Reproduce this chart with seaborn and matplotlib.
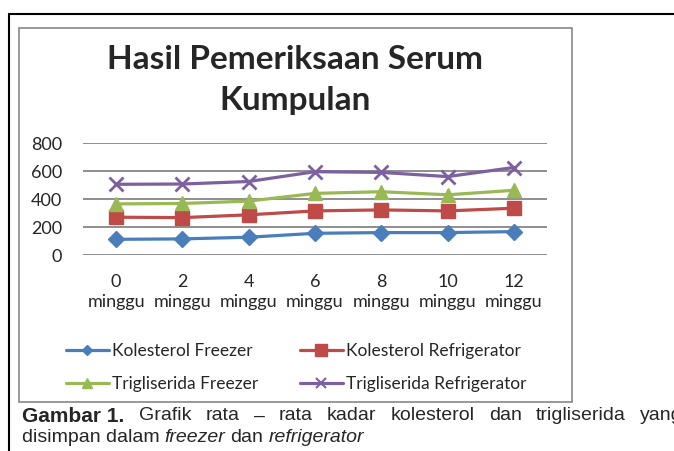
import matplotlib
matplotlib.use('Agg')
import matplotlib.pyplot as plt
from matplotlib.patches import Rectangle
from matplotlib.lines import Line2D
import seaborn as sns
import pandas as pd

# data
weeks = ['0\nminggu', '2\nminggu', '4\nminggu', '6\nminggu', '8\nminggu', '10\nminggu', '12\nminggu']
kolesterol_freezer = [112, 115, 127, 155, 160, 160, 167]
kolesterol_refrigerator = [270, 267, 287, 315, 322, 315, 334]
trigliserida_freezer = [365, 368, 385, 440, 452, 430, 462]
trigliserida_refrigerator = [505, 507, 525, 595, 590, 560, 625]
series_names = ['Kolesterol Freezer', 'Kolesterol Refrigerator',
                'Trigliserida Freezer', 'Trigliserida Refrigerator']

rows = []
for name, vals in zip(series_names, [kolesterol_freezer, kolesterol_refrigerator,
                                     trigliserida_freezer, trigliserida_refrigerator]):
    for i, v in enumerate(vals):
        rows.append({'pos': i, 'value': v, 'series': name})
df = pd.DataFrame(rows)

sns.set_style('white')
plt.rcParams['font.family'] = ['Lato', 'DejaVu Sans']

W, H = 674, 451
fig = plt.figure(figsize=(W / 100, H / 100), dpi=100)

# frames: outer black border and inner gray chart box
fig.add_artist(Line2D([9 / W, 9 / W], [0, 1 - 14 / H], color='black', lw=1.5))
fig.add_artist(Line2D([9 / W, 1], [1 - 14 / H, 1 - 14 / H], color='black', lw=1.5))
fig.add_artist(Rectangle((19 / W, 1 - 402 / H), (572 - 19) / W, (402 - 28) / H,
                         transform=fig.transFigure, fill=False, edgecolor='#888888', lw=1.2))

ax = fig.add_axes([83 / W, 1 - 255 / H, (547 - 83) / W, 112 / H])

palette = {'Kolesterol Freezer': '#4A7EBB', 'Kolesterol Refrigerator': '#BE4B48',
           'Trigliserida Freezer': '#98B954', 'Trigliserida Refrigerator': '#7D60A0'}
markers = {'Kolesterol Freezer': 'D', 'Kolesterol Refrigerator': 's',
           'Trigliserida Freezer': '^', 'Trigliserida Refrigerator': 'x'}
sizes = {'D': 8, 's': 10.5, '^': 10, 'x': 10}
leg_sizes = {'D': 5.5, 's': 8, '^': 7, 'x': 7}

for name in series_names:
    sub = df[df['series'] == name]
    m = markers[name]
    sns.lineplot(data=sub, x='pos', y='value', ax=ax, color=palette[name], lw=2.3,
                 marker=m, markersize=sizes[m], markeredgecolor=palette[name],
                 markeredgewidth=2 if m == 'x' else 1, label=name, legend=False)

ax.set_xlim(-0.5, len(weeks) - 0.5)
ax.set_ylim(0, 800)
ax.set_yticks([0, 200, 400, 600, 800])
ax.set_xticks(range(len(weeks)))
ax.set_xticklabels(weeks, fontsize=13, linespacing=1.25)
ax.tick_params(axis='y', labelsize=13, length=0, pad=15)
ax.tick_params(axis='x', length=0, pad=14)
ax.yaxis.grid(True, color='#868686', lw=1.3)
ax.xaxis.grid(False)
ax.set_xlabel('')
ax.set_ylabel('')
for s in ax.spines.values():
    s.set_visible(False)

fig.text(295 / W, 1 - 80 / H, 'Hasil Pemeriksaan Serum\nKumpulan', ha='center', va='center',
         fontsize=24, fontweight='bold', linespacing=1.5)

# legend filled column-wise, so order handles to get the two rows of the source
order = [0, 2, 1, 3]
handles = []
for k in order:
    n = series_names[k]
    m = markers[n]
    handles.append(Line2D([], [], color=palette[n], lw=2.3, marker=m, markersize=leg_sizes[m],
                          markeredgecolor=palette[n], markeredgewidth=1.5 if m == 'x' else 1))
fig.legend(handles, [series_names[k] for k in order], loc='upper left',
           bbox_to_anchor=(57 / W, 1 - 334 / H), ncol=2, frameon=False, fontsize=12.5,
           borderpad=0, handlelength=2.5, handletextpad=0.15, columnspacing=2.4,
           labelspacing=1.0)

# caption: first line justified (runs past the right edge), second line left aligned
cap_font = ['Liberation Sans', 'DejaVu Sans']
line1 = [('Gambar 1.', 'bold', 'normal'), ('Grafik', 'normal', 'normal'),
         ('rata', 'normal', 'normal'), ('\u2013', 'normal', 'normal'),
         ('rata', 'normal', 'normal'), ('kadar', 'normal', 'normal'),
         ('kolesterol', 'normal', 'normal'), ('dan', 'normal', 'normal'),
         ('trigliserida', 'normal', 'normal'), ('yang', 'normal', 'normal')]
line2 = [('disimpan dalam', 'normal', 'normal'), ('freezer', 'normal', 'italic'),
         ('dan', 'normal', 'normal'), ('refrigerator', 'normal', 'italic')]

renderer = fig.canvas.get_renderer()
x_left, x_right = 22, 683
for words, y, justify in [(line1, 416, True), (line2, 437, False)]:
    texts = [fig.text(0, 1 - y / H, txt, ha='left', va='center',
                      fontsize=15 if wgt == 'bold' else 14,
                      fontweight=wgt, fontstyle=sty, family=cap_font)
             for txt, wgt, sty in words]
    widths = [t.get_window_extent(renderer).width for t in texts]
    if justify:
        gap = (x_right - x_left - sum(widths)) / (len(texts) - 1)
    else:
        gap = 5
    x = x_left
    for t, w in zip(texts, widths):
        t.set_x(x / W)
        x += w + gap

fig.savefig('out.png', dpi=100)
